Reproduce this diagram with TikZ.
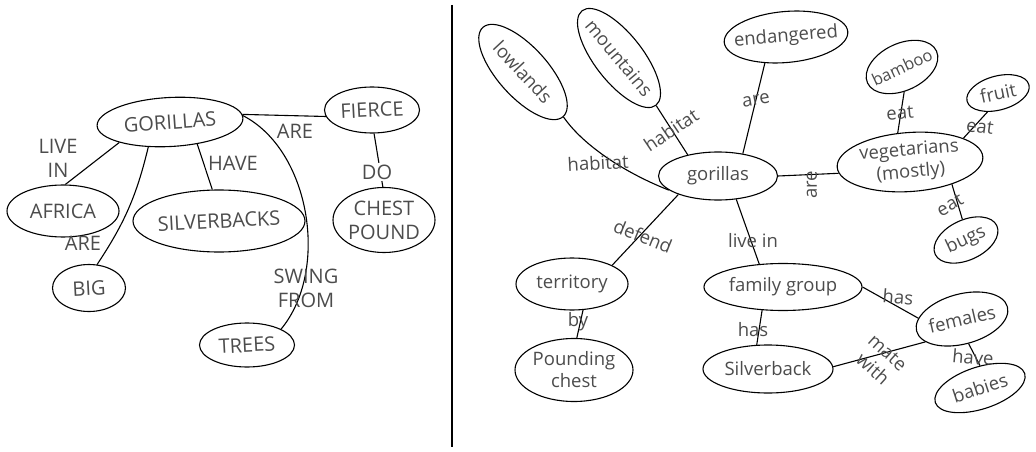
\documentclass[tikz,border=0pt]{standalone}
\usepackage{fontspec}
\setmainfont{Open Sans}
\usetikzlibrary{shapes.geometric}
\newcommand\bub[7]{%
  \node[bubble, minimum width=#3pt, minimum height=#4pt, rotate=#5] (#1) at (#2) {};
  \node[txt, rotate=#6] (#1-t) at (#1.center) {#7};
}
\begin{document}
\begin{tikzpicture}[x=1pt,y=-1pt,
  bubble/.style={draw=black, ellipse, line width=1.1pt, inner sep=0pt},
  txt/.style={text=black!70, font=\fontsize{18.5}{22}\selectfont, align=center, inner sep=0pt},
  link/.style={line width=1.1pt, draw=black}]
\useasboundingbox (0,0) rectangle (1036,452);
% ---------------- left map
\begin{scope}[txt/.append style={font=\fontsize{20}{24}\selectfont}]
\bub{gor}{170,122}{146}{49}{3}{4}{GORILLAS}
\bub{fierce}{372,110}{95}{46}{0}{3}{FIERCE}
\bub{africa}{63,211}{112}{52}{0}{0}{AFRICA}
\bub{silver}{219,221}{172}{62}{0}{3}{SILVERBACKS}
\bub{chest}{384,220}{102}{65}{0}{0}{CHEST\\POUND}
\bub{big}{89,288}{73}{47}{0}{3}{BIG}
\bub{trees}{247,345}{95}{44}{0}{3}{TREES}
\draw[link] (gor.3) -- (fierce.188);
\draw[link] (gor.199) -- (africa.85);
\draw[link] (gor.226) to[bend left=10] (big.71);
\draw[link] (gor.-42) -- (silver.102);
\draw[link] (gor.2) .. controls (310,150) and (330,270) .. (trees.25);
\draw[link] (fierce.-85) -- (chest.92);
\node[txt] (l-are1) at (295,131) {ARE};
\node[txt] (l-live) at (58,158) {LIVE\\IN};
\node[txt] (l-are2) at (83,243) {ARE};
\node[txt] (l-have) at (233,163) {HAVE};
\node[txt] (l-swing) at (306,288) {SWING\\FROM};
\node[txt, fill=white, inner sep=2pt] (l-do) at (377,172) {DO};
\end{scope}
% ---------------- separator
\coordinate (s1) at (452,5);
\coordinate (s2) at (452,447);
\draw[link] (s1) -- (s2);
% ---------------- right map
\bub{low}{523,72}{120}{50}{-48}{-47}{lowlands}
\bub{mtn}{619,58}{120}{48}{-52}{-50}{mountains}
\bub{endg}{786,37}{124}{51}{5}{5}{endangered}
\bub{rgor}{718,176}{119}{48}{0}{0}{gorillas}
\bub{veg}{910,162}{146}{59}{4}{5}{vegetarians\\(mostly)}
\bub{bamboo}{902,67}{76}{47}{25}{25}{\fontsize{16.5}{20}\selectfont bamboo}
\bub{fruit}{998,93}{64}{34}{15}{12}{fruit}
\bub{bugs}{966,240}{68}{40}{25}{25}{bugs}
\bub{terr}{572,284}{112}{52}{0}{0}{territory}
\bub{pound}{574,370}{118}{63}{0}{0}{Pounding\\chest}
\bub{fam}{783,287}{158}{47}{0}{0}{family group}
\bub{silv}{768,369}{130}{48}{0}{0}{Silverback}
\bub{fem}{962,319}{94}{50}{15}{13}{females}
\bub{babies}{980,388}{94}{42}{18}{18}{babies}
\draw[link] (low.east) .. controls (585,148) and (630,175) .. (rgor.196);
\draw[link] (mtn.east) -- (rgor.145);
\draw[link] (endg.226) -- (rgor.42);
\draw[link] (rgor.0) -- (veg.185);
\draw[link] (bamboo.-110) -- (veg.109);
\draw[link] (fruit.226) -- (veg.20);
\draw[link] (veg.-32) -- (bugs.75);
\draw[link] (rgor.205) -- (terr.25);
\draw[link] (terr.-67) -- (pound.85);
\draw[link] (rgor.-52) -- (fam.136);
\draw[link] (fam.228) -- (silv.115);
\draw[link] (fam.0) -- (fem.164);
\draw[link] (silv.2) -- (fem.197);
\draw[link] (fem.-90) -- (babies.72);
\node[txt, rotate=3] (r-hab1) at (598,163) {habitat};
\node[txt, rotate=34] (r-hab2) at (671,130) {habitat};
\node[txt, rotate=10] (r-are1) at (756,100) {are};
\node[txt, rotate=90] (r-are2) at (812,185) {are};
\node[txt, rotate=5] (r-eat1) at (900,113) {eat};
\node[txt, rotate=-8] (r-eat2) at (980,127) {eat};
\node[txt, rotate=30] (r-eat3) at (950,205) {eat};
\node[txt, rotate=-22] (r-def) at (643,236) {defend};
\node[txt] (r-by) at (578,322) {by};
\node[txt] (r-live) at (753,241) {live in};
\node[txt] (r-has1) at (753,330) {has};
\node[txt, rotate=-5] (r-has2) at (898,297) {has};
\node[txt, rotate=-42] (r-mate) at (880,361) {mate\\with};
\node[txt, rotate=-5] (r-have) at (973,357) {have};
\end{tikzpicture}
\end{document}
